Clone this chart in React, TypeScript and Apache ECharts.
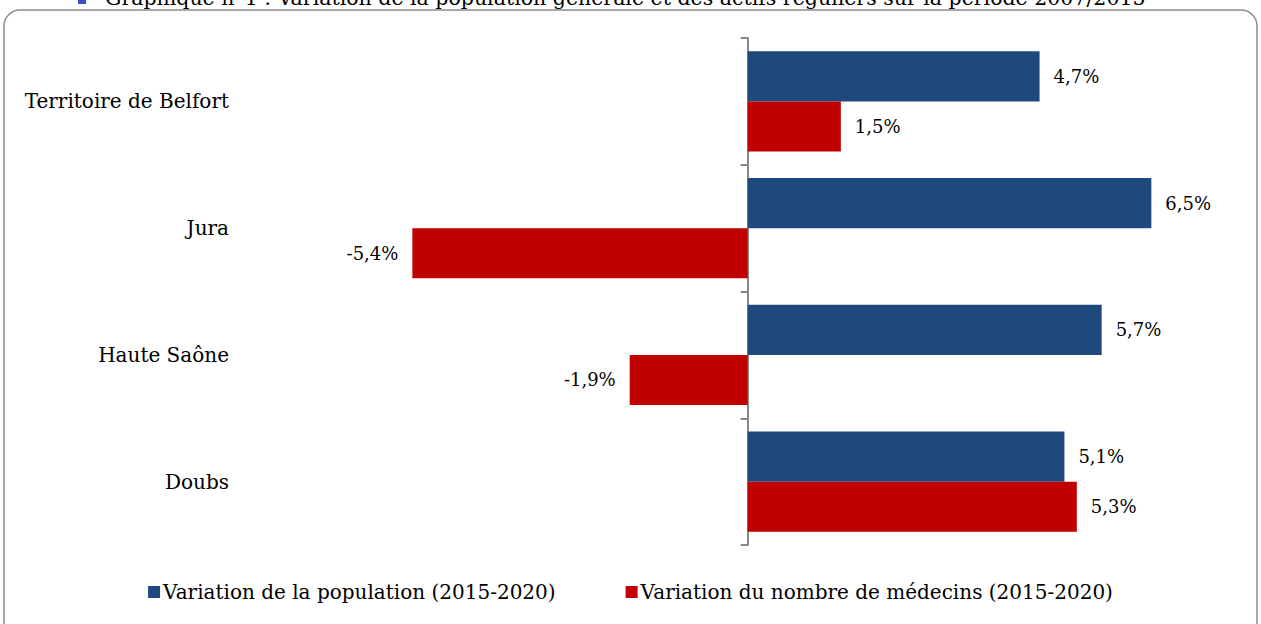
import React, { useEffect, useRef } from "react";
import * as echarts from "echarts";

const categories = ["Territoire de Belfort", "Jura", "Haute Saône", "Doubs"];
const populationVariation = [4.7, 6.5, 5.7, 5.1];
const doctorsVariation = [1.5, -5.4, -1.9, 5.3];
const seriesNames = [
  "Variation de la population (2015-2020)",
  "Variation du nombre de médecins (2015-2020)",
];
const titleText =
  "Graphique n°1 : Variation de la population générale et des actifs réguliers sur la période 2007/2015";

const FONT = "'DejaVu Serif', 'Liberation Serif', serif";

const fmt = (v: number) => v.toFixed(1).replace(".", ",") + "%";

const labelFor = (v: number) => ({
  value: v,
  label: { position: v < 0 ? "left" : "right" },
});

export default function App() {
  const ref = useRef<HTMLDivElement>(null);
  useEffect(() => {
    const chart = echarts.init(ref.current!, null, { renderer: "svg" });
    const labelBase = {
      show: true,
      distance: 14,
      color: "#000",
      fontFamily: FONT,
      fontSize: 18,
      formatter: (p: any) => fmt(p.value),
    };
    chart.setOption({
      animation: false,
      backgroundColor: "#fff",
      textStyle: { fontFamily: FONT },
      graphic: [
        {
          type: "rect",
          shape: { x: 4, y: 10, width: 1253, height: 640, r: 16 },
          style: { fill: "none", stroke: "#8c8c8c", lineWidth: 1.5 },
          silent: true,
        },
        {
          type: "rect",
          shape: { x: 78, y: -4, width: 8, height: 8 },
          style: { fill: "#3a4fc8" },
          silent: true,
        },
        {
          type: "text",
          x: 105,
          y: -13,
          style: {
            text: titleText,
            fontFamily: FONT,
            fontSize: 20.5,
            fill: "#000",
          },
          silent: true,
        },
      ],
      legend: {
        data: seriesNames,
        bottom: 17,
        left: "center",
        itemWidth: 12,
        itemHeight: 12,
        itemGap: 70,
        icon: "rect",
        textStyle: { fontFamily: FONT, fontSize: 20, color: "#000", padding: [0, 0, 0, -2] },
      },
      grid: {
        left: 313,
        right: 16.5,
        top: 38,
        bottom: 79,
        containLabel: false,
        outerBoundsMode: "none",
      },
      xAxis: {
        type: "value",
        min: -7,
        max: 8,
        show: false,
        splitLine: { show: false },
      },
      yAxis: {
        type: "category",
        data: categories,
        inverse: true,
        axisLine: { show: true, onZero: true, lineStyle: { color: "#888", width: 2 } },
        axisTick: { show: true, length: 7, lineStyle: { color: "#888", width: 2 } },
        axisLabel: {
          margin: 84,
          color: "#000",
          fontFamily: FONT,
          fontSize: 20,
        },
      },
      series: [
        {
          name: seriesNames[0],
          type: "bar",
          barCategoryGap: "21%",
          barGap: "0%",
          itemStyle: { color: "#1F497D" },
          label: labelBase,
          data: populationVariation.map(labelFor),
        },
        {
          name: seriesNames[1],
          type: "bar",
          barCategoryGap: "21%",
          barGap: "0%",
          itemStyle: { color: "#C00000" },
          label: labelBase,
          data: doctorsVariation.map(labelFor),
        },
      ],
    });
    return () => chart.dispose();
  }, []);
  return (
    <div
      ref={ref}
      style={{ position: "fixed", left: 0, top: 0, width: 1261, height: 624 }}
    />
  );
}
